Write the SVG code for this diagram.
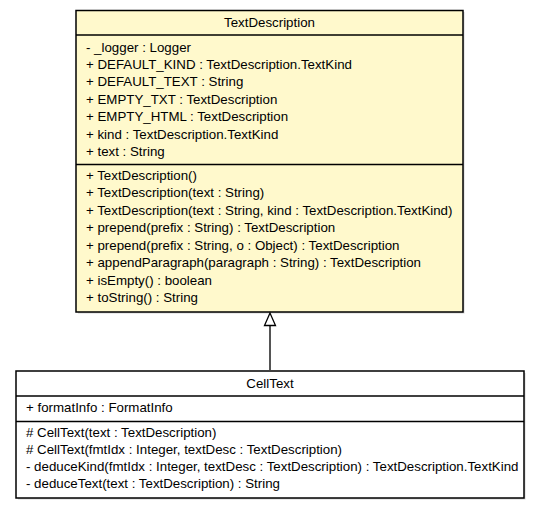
<svg xmlns="http://www.w3.org/2000/svg" width="540" height="509" viewBox="0 0 540 509">
<style>
text{font-family:"Liberation Sans",Arial,sans-serif;font-size:13.3px;fill:#000}
.t{text-anchor:middle}
.box{stroke:#000;stroke-width:1.5}
.sep{stroke:#000;stroke-width:1.5}
.shadow{fill:#d4d4d4}
</style>
<rect width="540" height="509" fill="#fff"/>
<g id="TextDescription">
<rect class="shadow" x="78" y="12" width="386.5" height="301.5"/>
<rect class="box" x="76" y="10.5" width="387" height="301.5" fill="#fff9cc"/>
<line class="sep" x1="76" y1="35" x2="463" y2="35"/>
<line class="sep" x1="76" y1="164.5" x2="463" y2="164.5"/>
<text class="t" x="269.5" y="27">TextDescription</text>
<text x="86" y="51.5">- _logger : Logger</text>
<text x="86" y="68.9">+ DEFAULT_KIND : TextDescription.TextKind</text>
<text x="86" y="86.3">+ DEFAULT_TEXT : String</text>
<text x="86" y="103.7">+ EMPTY_TXT : TextDescription</text>
<text x="86" y="121.1">+ EMPTY_HTML : TextDescription</text>
<text x="86" y="138.5">+ kind : TextDescription.TextKind</text>
<text x="86" y="155.9">+ text : String</text>
<text x="86" y="179.5">+ TextDescription()</text>
<text x="86" y="197">+ TextDescription(text : String)</text>
<text x="86" y="214.5">+ TextDescription(text : String, kind : TextDescription.TextKind)</text>
<text x="86" y="232">+ prepend(prefix : String) : TextDescription</text>
<text x="86" y="249.5">+ prepend(prefix : String, o : Object) : TextDescription</text>
<text x="86" y="267">+ appendParagraph(paragraph : String) : TextDescription</text>
<text x="86" y="284.5">+ isEmpty() : boolean</text>
<text x="86" y="302">+ toString() : String</text>
</g>
<g id="CellText">
<rect class="shadow" x="18" y="373" width="507.5" height="126.5"/>
<rect class="box" x="16" y="371" width="508" height="127" fill="#fff"/>
<line class="sep" x1="16" y1="396" x2="524" y2="396"/>
<line class="sep" x1="16" y1="421.5" x2="524" y2="421.5"/>
<text class="t" x="270" y="388">CellText</text>
<text x="26" y="411.5">+ formatInfo : FormatInfo</text>
<text x="26" y="437"># CellText(text : TextDescription)</text>
<text x="26" y="454"># CellText(fmtIdx : Integer, textDesc : TextDescription)</text>
<text x="26" y="471">- deduceKind(fmtIdx : Integer, textDesc : TextDescription) : TextDescription.TextKind</text>
<text x="26" y="488">- deduceText(text : TextDescription) : String</text>
</g>
<g id="connectors">
<line x1="270" y1="325" x2="270" y2="370" stroke="#555" stroke-width="2"/>
<polygon points="270,313 264.5,325.5 275.5,325.5" fill="#fff" stroke="#000" stroke-width="1.3"/>
</g>
</svg>
